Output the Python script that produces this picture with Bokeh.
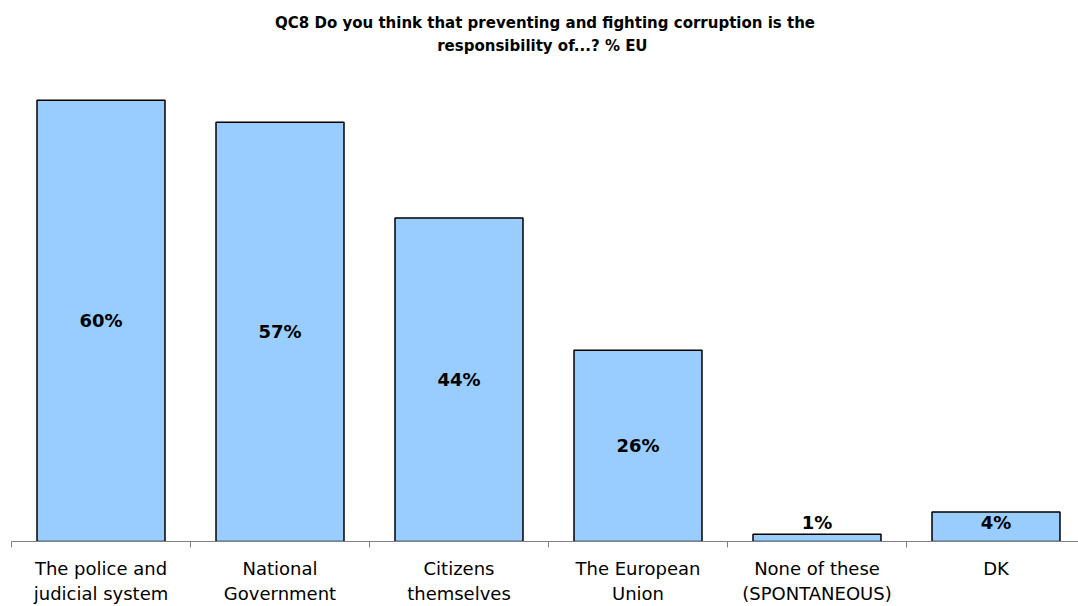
from bokeh.plotting import figure
from bokeh.models import ColumnDataSource, FixedTicker, Range1d, Title
from bokeh.core.properties import value
from bokeh.embed import file_html
from bokeh.resources import INLINE

categories = ["The police and\njudicial system", "National\nGovernment", "Citizens\nthemselves",
              "The European\nUnion", "None of these\n(SPONTANEOUS)", "DK"]
values = [60, 57, 44, 26, 1, 4]
labels = ["60%", "57%", "44%", "26%", "1%", "4%"]
title_lines = ["QC8 Do you think that preventing and fighting corruption is the",
               "responsibility of...?  % EU"]

xs = [i + 0.5 for i in range(len(categories))]
label_y = [max(v / 2, 2.6) for v in values]

src = ColumnDataSource(dict(x=xs, top=values, ly=label_y, lab=labels))

FONT = "DejaVu Sans"
W, H = 1078, 606
TOP, BOTTOM = 70, 64
p = figure(width=W, height=H, output_backend="svg", toolbar_location=None,
           x_range=Range1d(0, 1067 / 179), y_range=Range1d(0, (H - TOP - BOTTOM) / 7.37),
           min_border_left=11, min_border_right=0, min_border_top=TOP, min_border_bottom=BOTTOM)

p.title = None
# nearest to the frame first
p.add_layout(Title(text=title_lines[1], align="center", text_font=FONT, text_font_size="15px",
                   text_font_style="bold", text_color="#000000", standoff=32), "above")
p.add_layout(Title(text=title_lines[0], align="center", text_font=FONT, text_font_size="15px",
                   text_font_style="bold", text_color="#000000", standoff=-26), "above")
p.yaxis.visible = False
p.xgrid.visible = False
p.ygrid.visible = False
p.outline_line_color = None
p.background_fill_color = "white"

p.vbar(x="x", top="top", bottom=0, width=0.715, source=src,
       fill_color="#99CCFF", line_color="#000000", line_width=1.5)
p.text(x="x", y="ly", text="lab", source=src, text_align="center", text_baseline="middle",
       text_font=value(FONT), text_font_size="18px", text_font_style="bold", text_color="#000000")

ax = p.xaxis[0]
ax.ticker = FixedTicker(ticks=xs, minor_ticks=list(range(len(categories) + 1)))
ax.major_label_overrides = {x: c for x, c in zip(xs, categories)}
ax.major_tick_out = 0
ax.major_tick_in = 0
ax.minor_tick_out = 6
ax.minor_tick_in = 0
ax.axis_line_color = "#808080"
ax.minor_tick_line_color = "#808080"
ax.major_label_text_font = FONT
ax.major_label_text_font_size = "18px"
ax.major_label_text_color = "#000000"
ax.major_label_standoff = 10

open("out.html", "w").write(file_html(p, INLINE))
